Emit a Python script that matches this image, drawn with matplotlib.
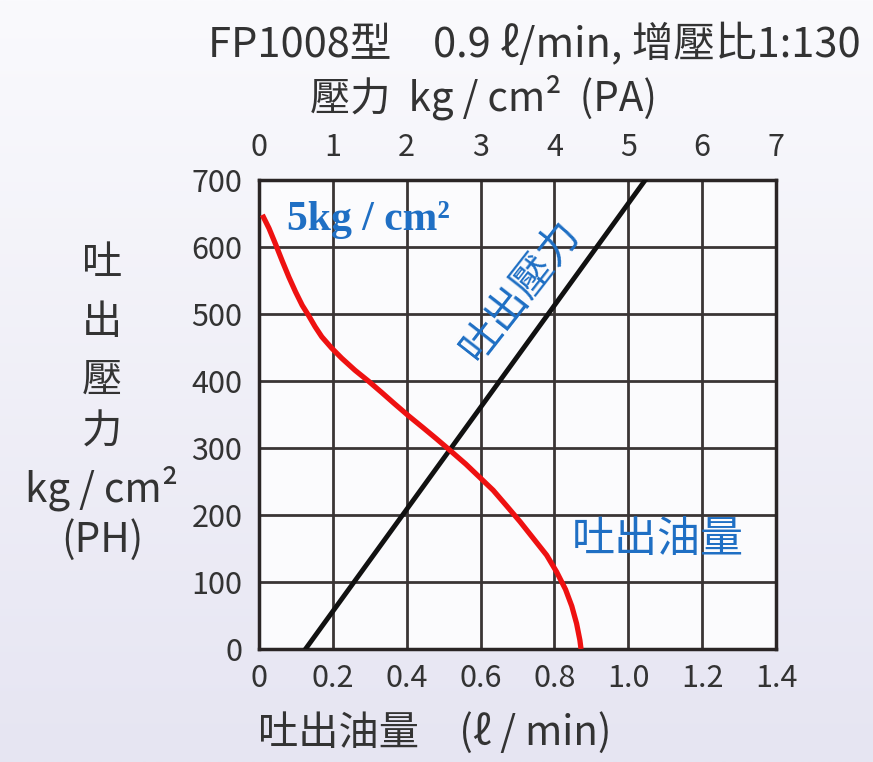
import numpy as np
import matplotlib
matplotlib.use("Agg")
import matplotlib.pyplot as plt

plt.rcParams['font.family'] = ['Noto Sans CJK TC', 'DejaVu Sans']

# discharge flow curve (red), x = flow l/min, y = PH kg/cm2
flow_x = [0.009, 0.027, 0.045, 0.063, 0.081, 0.099, 0.117, 0.134, 0.152, 0.170,
          0.197, 0.224, 0.260, 0.296, 0.332, 0.367, 0.405, 0.445, 0.480, 0.514,
          0.560, 0.598, 0.634, 0.670, 0.707, 0.743, 0.779, 0.806, 0.830, 0.847,
          0.860, 0.869, 0.872]
flow_y = [648, 628, 604, 579, 555, 533, 513, 498, 481, 466,
          449, 434, 416, 400, 383, 366, 348, 330, 314, 298,
          276, 256, 237, 214, 190, 165, 140, 115, 89, 64,
          38, 13, 0]

# discharge pressure line (black), x = PA kg/cm2, y = PH kg/cm2
pa_x = [0.63, 5.23]
ph_y = [0, 700]

x_ticks = [0, 0.2, 0.4, 0.6, 0.8, 1.0, 1.2, 1.4]
x_labels = ['0', '0.2', '0.4', '0.6', '0.8', '1.0', '1.2', '1.4']
y_ticks = [0, 100, 200, 300, 400, 500, 600, 700]
top_ticks = [0, 1, 2, 3, 4, 5, 6, 7]

txt = '#333333'
blue = '#1f6fc4'

fig = plt.figure(figsize=(8.73, 7.62), dpi=100)

# light lavender background gradient
bg = fig.add_axes([0, 0, 1, 1], zorder=-10)
grad = np.linspace(0, 1, 256).reshape(-1, 1)
cmap = matplotlib.colors.LinearSegmentedColormap.from_list('bg', ['#fafafd', '#e6e5f2'])
bg.imshow(grad, aspect='auto', cmap=cmap, extent=[0, 1, 0, 1])
bg.axis('off')

ax = fig.add_axes([259/873, 1 - 649/762, 517/873, 469/762])
ax.set_facecolor('#fbfbfd')
ax.set_xlim(0, 1.4)
ax.set_ylim(0, 700)
ax.set_xticks(x_ticks)
ax.set_xticklabels(x_labels)
ax.set_yticks(y_ticks)
ax.tick_params(length=0, labelsize=22, colors=txt, pad=12)
ax.tick_params(axis='x', pad=10)
ax.grid(True, color='#3a3535', lw=2)
for s in ax.spines.values():
    s.set_color('#2a2525')
    s.set_linewidth(2.5)

# black pressure line, PA converted onto the flow axis (7 PA <-> 1.4 l/min)
ax.plot(np.array(pa_x) * 0.2, ph_y, color='#111111', lw=3.5, zorder=3)
ax.plot(flow_x, flow_y, color='#ee1111', lw=3.8, zorder=4,
        solid_capstyle='butt', solid_joinstyle='round')

top = ax.secondary_xaxis('top', functions=(lambda v: v * 5, lambda v: v / 5))
top.set_xticks(top_ticks)
top.tick_params(length=0, labelsize=22, colors=txt, pad=12)
top.spines['top'].set_visible(False)

ax.text(0.075, 641, '5kg / cm²', color=blue, fontsize=30, fontweight='bold',
        family=['Liberation Serif', 'DejaVu Serif'], va='center', ha='left')
ax.text(0.707, 536, '吐出壓力', color=blue, fontsize=30, rotation=52,
        ha='center', va='center', rotation_mode='anchor')
ax.text(1.08, 163, '吐出油量', color=blue, fontsize=31, ha='center', va='center')

fig.text(534/873, 1 - 44/762, 'FP1008型　0.9 ℓ/min, 增壓比1:130', color=txt,
         fontsize=30, ha='center', va='center')
fig.text(484/873, 1 - 97/762, '壓力  kg / cm²  (PA)', color=txt,
         fontsize=29, ha='center', va='center')
fig.text(435/873, 1 - 733/762, '吐出油量　(ℓ / min)', color=txt,
         fontsize=29, ha='center', va='center')

for lab, yy in [('吐', 263), ('出', 322), ('壓', 380), ('力', 432),
                ('kg / cm²', 488), ('(PH)', 540)]:
    fig.text(102/873, 1 - yy/762, lab, color=txt, fontsize=29,
             ha='center', va='center')

fig.savefig('out.png', dpi=100)
